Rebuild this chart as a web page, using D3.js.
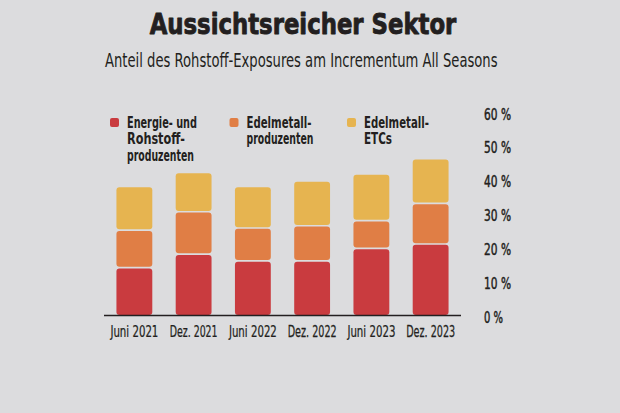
<!DOCTYPE html>
<html><head><meta charset="utf-8">
<script src="https://cdn.jsdelivr.net/npm/d3@7"></script>
<style>
html,body{margin:0;padding:0;background:#dcdcde;}
svg{display:block;}
</style></head>
<body>
<svg id="c" width="620" height="413"></svg>
<script>
const categories = ["Juni 2021","Dez. 2021","Juni 2022","Dez. 2022","Juni 2023","Dez. 2023"];
const energie = [14, 18, 16, 16, 19.7, 21];
const edelProd = [11.1, 12.5, 9.7, 10.4, 8.2, 12];
const edelETC = [12.9, 11.6, 12.3, 13.2, 13.8, 13.2];
const seriesNames = ["Energie- und|Rohstoff-|produzenten","Edelmetall-|produzenten","Edelmetall-|ETCs"];
const colors = ["#c93b3f","#e07e45","#e6b450"];
const yTicks = [0,10,20,30,40,50,60];

const font = "'DejaVu Sans Condensed','DejaVu Sans',sans-serif";
const svg = d3.select("#c");
svg.append("rect").attr("width",620).attr("height",413).attr("fill","#dcdcde");

// place text at (px,py) and compress horizontally to width w
function put(parent, txt, px, py, w, opts){
  const t = parent.append("text").attr("x",0).attr("y",0)
    .attr("font-family", opts.family || font)
    .attr("font-size", opts.size).attr("font-weight", opts.weight || "normal")
    .attr("text-anchor", opts.anchor || "start")
    .attr("fill","#231f20").text(txt);
  if (opts.stroke) t.attr("stroke","#231f20").attr("stroke-width",opts.stroke).attr("stroke-linejoin","round");
  const nat = t.node().getComputedTextLength();
  const s = nat > 0 ? w / nat : 1;
  t.attr("transform", `translate(${px},${py}) scale(${s},1)`);
  return t;
}

put(svg, "Aussichtsreicher Sektor", 303, 34, 307, {family:"'DejaVu Sans',sans-serif", size:28, weight:"bold", anchor:"middle", stroke:0.9});
put(svg, "Anteil des Rohstoff-Exposures am Incrementum All Seasons", 105, 67, 393, {size:19});

const x = d3.scaleBand().domain(categories).range([104,461]).paddingInner(0.395).paddingOuter(0.21);
const y = d3.scaleLinear().domain([0,60]).range([315,112]);

const table = categories.map((c,i)=>({cat:c, v:[energie[i], edelProd[i], edelETC[i]]}));
const stack = d3.stack().keys([0,1,2]).value((d,k)=>d.v[k]);
const layers = stack(table);

const g = svg.append("g");
layers.forEach((layer,k)=>{
  g.selectAll(null).data(layer).enter().append("rect")
    .attr("x", d=>x(d.data.cat))
    .attr("width", x.bandwidth())
    .attr("y", d=>y(d[1]) + 0.8)
    .attr("height", d=>Math.max(0, y(d[0]) - y(d[1]) - (k===0?0.8:1.6)))
    .attr("rx",3).attr("fill", colors[k]);
});

svg.append("line").attr("x1",104).attr("x2",461).attr("y1",315.5).attr("y2",315.5)
  .attr("stroke","#231f20").attr("stroke-width",1.5);

// x labels
const xLabelWidths = [48,48,48,49,48,49];
categories.forEach((c,i)=>{
  put(svg, c, x(c)+x.bandwidth()/2, 337, xLabelWidths[i], {size:16, anchor:"middle", stroke:0.25});
});

// y labels on right
yTicks.forEach(t=>{
  put(svg, t+" %", 484, y(t)+7.5, t===0?19:27, {size:15, stroke:0.45});
});

// legend
const legX = [110, 229.5, 347];
const legW = [[70,58,67],[65,67],[65,28]];
seriesNames.forEach((n,k)=>{
  svg.append("rect").attr("x",legX[k]).attr("y",118).attr("width",9).attr("height",9)
    .attr("rx",2).attr("fill",colors[k]);
  n.split("|").forEach((line,j)=>{
    put(svg, line, legX[k]+17, 127.5+j*16.7, legW[k][j], {size:15, weight:"bold"});
  });
});
</script>
</body></html>
